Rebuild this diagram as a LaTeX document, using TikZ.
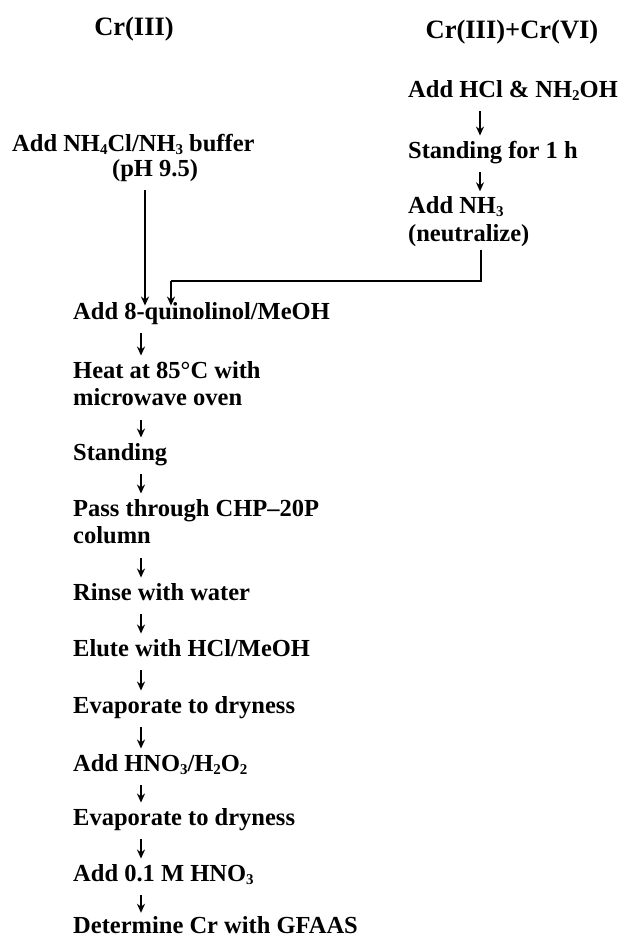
\documentclass[tikz,border=0pt]{standalone}
\usepackage{fontspec}
\setmainfont{Liberation Serif}
\usetikzlibrary{arrows.meta}
\newcommand{\chemsub}[1]{{\fontsize{15}{15}\selectfont\raisebox{-3pt}{#1}}}
\begin{document}
\begin{tikzpicture}[x=1pt,y=-1pt,
  stepbox/.style={font=\bfseries\fontsize{24.5}{27.5}\selectfont, anchor=west, inner sep=0pt, align=left},
  title/.style={font=\bfseries\fontsize{26.5}{30}\selectfont, inner sep=0pt, anchor=base},
  flow/.style={line width=1.6pt, -{Stealth[length=9pt,width=8pt]}, shorten <=6pt, shorten >=3pt},
  link/.style={line width=1.5pt}]
\useasboundingbox[fill=white] (0,0) rectangle (623,938);
% titles
\node[title] (t1) at (134,35) {Cr(III)};
\node[title] (t2) at (512,38) {Cr(III)+Cr(VI)};
% right column
\node[stepbox] (hcl) at (408,91.5) {\strut Add HCl \& NH\chemsub{2}OH};
\node[stepbox] (st1) at (408,152.5) {\strut Standing for 1 h};
\node[stepbox] (nh3) at (408,222) {\strut Add NH\chemsub{3}\\\strut (neutralize)};
% left buffer
\node[stepbox, font=\bfseries\fontsize{24.5}{24}\selectfont] (buf) at (12,159.2) {\strut Add NH\chemsub{4}Cl/NH\chemsub{3} buffer\\\hspace*{100pt}\strut (pH 9.5)};
% main column
\node[stepbox] (q) at (73,313.5) {\strut Add 8-quinolinol/MeOH};
\node[stepbox] (heat) at (73,386.25) {\strut Heat at 85°C with\\\strut microwave oven};
\node[stepbox] (stand) at (73,454.5) {\strut Standing};
\node[stepbox] (pass) at (73,524.25) {\strut Pass through CHP--20P\\\strut column};
\node[stepbox] (rinse) at (73,594.5) {\strut Rinse with water};
\node[stepbox] (elute) at (73,650.5) {\strut Elute with HCl/MeOH};
\node[stepbox] (evap1) at (73,707.5) {\strut Evaporate to dryness};
\node[stepbox] (hno) at (73,765.5) {\strut Add HNO\chemsub{3}/H\chemsub{2}O\chemsub{2}};
\node[stepbox] (evap2) at (73,819.5) {\strut Evaporate to dryness};
\node[stepbox] (acid) at (73,875.5) {\strut Add 0.1 M HNO\chemsub{3}};
\node[stepbox, anchor=base west] (det) at (73,933) {Determine Cr with GFAAS};
% helper coordinates
\coordinate (ax) at (141,0);
\coordinate (rx) at (480,0);
\coordinate (bx) at (145,0);
\coordinate (cx) at (171,0);
\coordinate (vx) at (481,0);
\coordinate (turnR) at (481,281);
\coordinate (turnL) at (171,281);
% right column arrows
\draw[flow] (hcl.south -| rx) -- (st1.north -| rx);
\draw[flow] (st1.south -| rx) -- (nh3.north -| rx);
% joins
\draw[link] (nh3.south -| vx) -- (turnR) -- (turnL);
\draw[flow, shorten <=0pt, shorten >=-6pt] (turnL) -- (q.north -| cx);
\draw[flow, shorten <=6pt, shorten >=-6pt] (buf.south -| bx) -- (q.north -| bx);
% main column arrows
\draw[flow] (q.south -| ax) -- (heat.north -| ax);
\draw[flow] (heat.south -| ax) -- (stand.north -| ax);
\draw[flow] (stand.south -| ax) -- (pass.north -| ax);
\draw[flow] (pass.south -| ax) -- (rinse.north -| ax);
\draw[flow] (rinse.south -| ax) -- (elute.north -| ax);
\draw[flow] (elute.south -| ax) -- (evap1.north -| ax);
\draw[flow] (evap1.south -| ax) -- (hno.north -| ax);
\draw[flow] (hno.south -| ax) -- (evap2.north -| ax);
\draw[flow] (evap2.south -| ax) -- (acid.north -| ax);
\draw[flow] (acid.south -| ax) -- (det.north -| ax);
\end{tikzpicture}
\end{document}
